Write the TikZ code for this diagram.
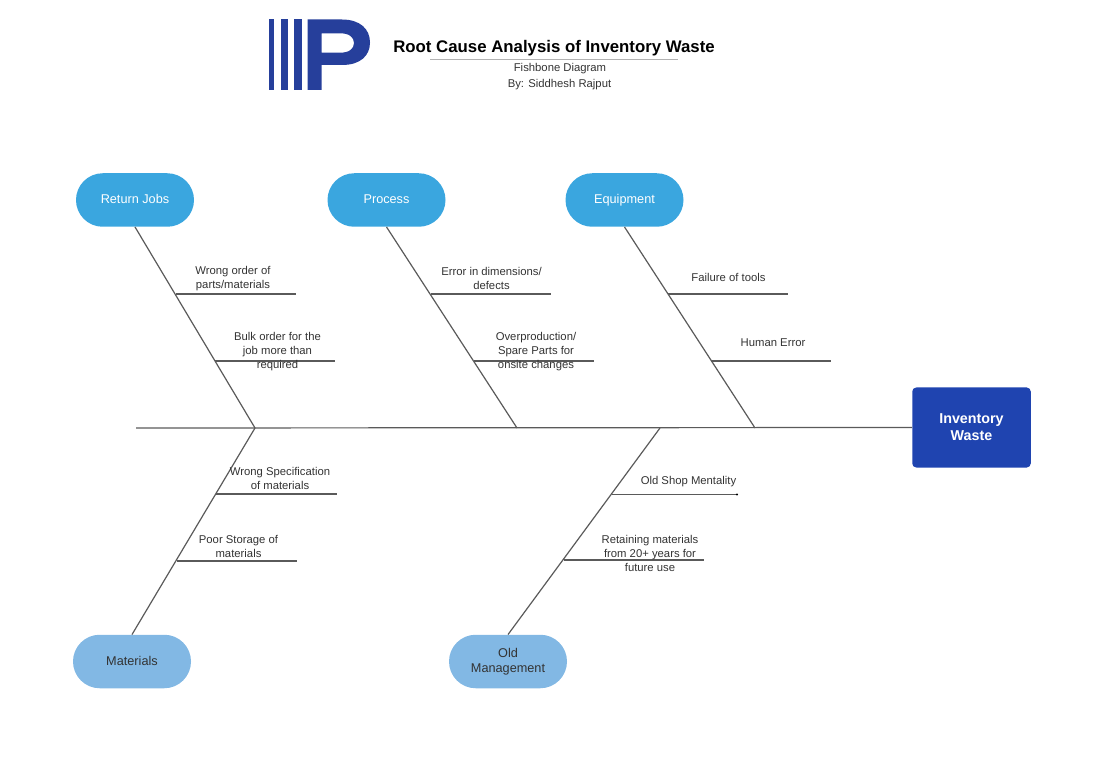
\documentclass[tikz,border=0pt]{standalone}
\usepackage{fontspec}
\setmainfont{Liberation Sans}
\definecolor{catblue}{HTML}{3AA6DF}
\definecolor{catlight}{HTML}{82B8E4}
\definecolor{headblue}{HTML}{1F44B0}
\definecolor{logoblue}{HTML}{263F9B}
\definecolor{linegray}{HTML}{5A5A5A}
\definecolor{txt}{HTML}{333333}
\newcommand{\raised}[1]{\raisebox{1.6pt}{#1}}
\tikzset{
  x=1pt,y=-1pt,
  bone/.style={draw=linegray,line width=1.2pt},
  twig/.style={draw=linegray,line width=1.1pt},
  cat/.style={rounded corners=26.7pt,minimum width=118pt,minimum height=53.5pt,inner sep=0pt,align=center,font=\fontsize{12.7}{15}\selectfont},
  catup/.style={cat,fill=catblue,text=white},
  catdown/.style={cat,fill=catlight,text=txt},
  lab/.style={inner sep=0pt,align=center,text=txt,font=\fontsize{11.3}{14}\selectfont},
}
\begin{document}
\begin{tikzpicture}
\useasboundingbox (0,0) rectangle (1104,767);
% logo
\fill[logoblue] (269.3,19.5) rectangle (274.3,90);
\fill[logoblue] (281,19.5) rectangle (287.7,90);
\fill[logoblue] (293.7,19.5) rectangle (301.7,90);
\fill[logoblue,even odd rule] (307.7,19.5) -- (342,19.5) .. controls (360,19.5) and (370,29) .. (370,42.5) .. controls (370,56) and (360,65) .. (342,65) -- (321.7,65) -- (321.7,90) -- (307.7,90) -- cycle
  (321.7,33.3) -- (321.7,52.7) -- (340,52.7) .. controls (349,52.7) and (354,49) .. (354,43) .. controls (354,37) and (349,33.3) .. (340,33.3) -- cycle;
% title
\node[inner sep=0pt,font=\fontsize{16.8}{20}\selectfont\bfseries,text=black] (title) at (554,48) {Root Cause Analysis of Inventory Waste};
\coordinate (ruleL) at (430,59);
\coordinate (ruleR) at (678,59);
\draw[draw=gray!60,line width=0.8pt] (ruleL) -- (ruleR);
\node[lab] (sub) at (560,69) {Fishbone Diagram};
\node[lab] (by) at (559.5,85) {By: Siddhesh Rajput};
% head and categories
\node[fill=headblue,rounded corners=4pt,minimum width=118.5pt,minimum height=80pt,inner sep=0pt,align=center,text=white,font=\fontsize{14.3}{17}\selectfont\bfseries] (head) at (971.5,427.5) {Inventory\\Waste};
\node[catup] (ret) at (135,200) {\raised{Return Jobs}};
\node[catup] (proc) at (386.5,200) {\raised{Process}};
\node[catup] (equip) at (624.5,200) {\raised{Equipment}};
\node[catdown] (mat) at (132,661.5) {\raised{Materials}};
\node[catdown] (old) at (508,661.5) {\raisebox{1pt}{\begin{tabular}{@{}c@{}}Old\\Management\end{tabular}}};
% spine and joints
\coordinate (tail) at (136,428);
\coordinate (j1) at (255,428);
\coordinate (j2) at (517,428);
\coordinate (j3) at (755,428);
\coordinate (j4) at (660,428);
\draw[bone] (tail) -- (head.west);
\draw[bone] (ret.south) -- (j1);
\draw[bone] (proc.south) -- (j2);
\draw[bone] (equip.south) -- (j3);
\draw[bone] (mat.north) -- (j1);
\draw[bone] (old.north) -- (j4);
% twigs
\coordinate (a1) at (176,294); \coordinate (a2) at (296,294);
\coordinate (b1) at (215,361); \coordinate (b2) at (335,361);
\coordinate (c1) at (431,294); \coordinate (c2) at (551,294);
\coordinate (d1) at (474,361); \coordinate (d2) at (594,361);
\coordinate (e1) at (668,294); \coordinate (e2) at (788,294);
\coordinate (f1) at (711,361); \coordinate (f2) at (831,361);
\coordinate (g1) at (216,494); \coordinate (g2) at (337,494);
\coordinate (h1) at (177,561); \coordinate (h2) at (297,561);
\coordinate (i1) at (612,494.5); \coordinate (i2) at (737,494.5);
\coordinate (k1) at (564,560); \coordinate (k2) at (704,560);
\foreach \p/\q in {a1/a2,b1/b2,c1/c2,d1/d2,e1/e2,f1/f2,g1/g2,h1/h2,i1/i2,k1/k2}
  \draw[twig] (\p) -- (\q);
\fill[black] (i2) circle (1.2pt);
% labels
\node[lab] (la) at (233,278.7) {Wrong order of\\parts/materials};
\node[lab] (lb) at (277.5,351.8) {Bulk order for the\\job more than\\required};
\node[lab] (lc) at (491.5,278) {Error in dimensions/\\defects};
\node[lab] (ld) at (536,351.8) {Overproduction/\\Spare Parts for\\onsite changes};
\node[lab] (le) at (728.5,277.5) {Failure of tools};
\node[lab] (lf) at (773,343) {Human Error};
\node[lab] (lg) at (280,478.5) {Wrong Specification\\of materials};
\node[lab] (lh) at (238.5,546) {Poor Storage of\\materials};
\node[lab] (li) at (688.5,481.3) {Old Shop Mentality};
\node[lab] (lk) at (650,553) {Retaining materials\\from 20+ years for\\future use};
\end{tikzpicture}
\end{document}
